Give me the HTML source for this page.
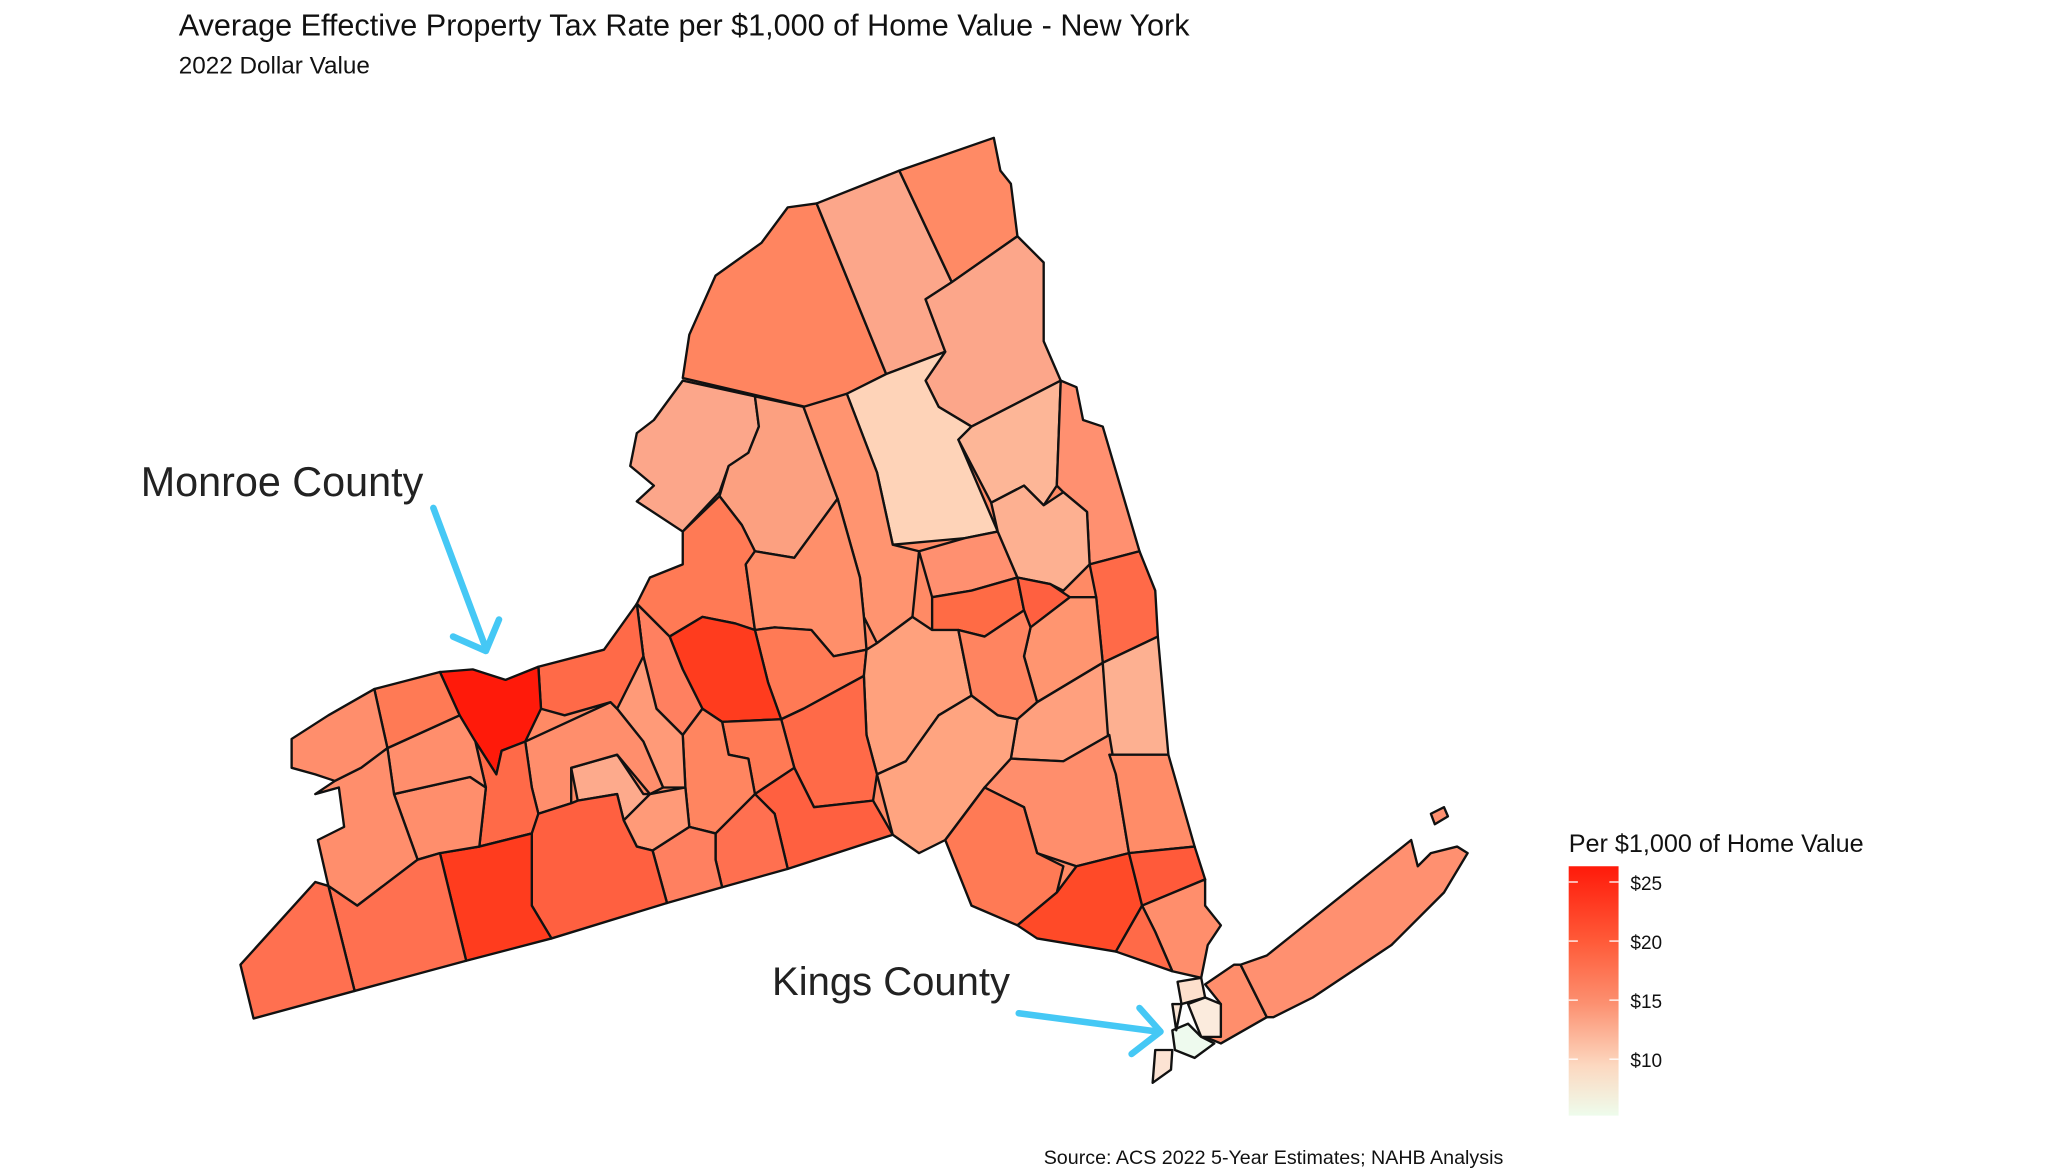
<!DOCTYPE html>
<html><head><meta charset="utf-8"><style>
html,body{margin:0;padding:0;background:#fff}
svg{display:block}
text{font-family:"Liberation Sans",sans-serif;fill:#111}
</style></head><body>
<svg width="2048" height="1176" viewBox="0 0 1560 896" xmlns="http://www.w3.org/2000/svg">
<defs><linearGradient id="g" x1="0" y1="0" x2="0" y2="1">
<stop offset="0" stop-color="#ff1a0a"/><stop offset="0.3" stop-color="#ff5a38"/><stop offset="0.55" stop-color="#fc9070"/><stop offset="0.8" stop-color="#fcd8c0"/><stop offset="1" stop-color="#eefcec"/></linearGradient></defs>
<text x="136" y="27" font-size="23.3">Average Effective Property Tax Rate per $1,000 of Home Value - New York</text>
<text x="136" y="56" font-size="18.5">2022 Dollar Value</text>
<polygon fill="#ff8a65" points="193,776 183,735 240,672 250,675 262,630 258,600 255,595 240,590 222,585 222,563 250,545 285,525 335,512 360,510 385,518 410,508 460,495 485,460 495,440 520,430 520,405 485,382 498,370 480,355 485,330 498,320 520,290 525,255 545,210 580,185 600,158 622,155 685,130 757,105 762,130 770,140 775,180 795,200 795,260 808,290 820,295 825,320 840,325 868,420 880,450 882,485 890,575 910,645 918,670 918,690 930,705 920,720 915,745 893,740 850,725 790,715 775,705 740,690 720,640 700,650 680,636"/>
<g stroke="#111" stroke-width="1.8" stroke-linejoin="round">
<polygon fill="#ff8560" points="525,255 545,210 580,185 600,158 622,155 675,285 622,312 520,288"/>
<polygon fill="#fca68a" points="622,155 685,130 725,215 705,228 720,268 675,285"/>
<polygon fill="#ff8a65" points="685,130 757,105 762,130 770,140 775,180 725,215"/>
<polygon fill="#fca68a" points="725,215 775,180 795,200 795,260 808,290 740,325 715,310 705,290 720,268 705,228"/>
<polygon fill="#fed3b8" points="645,300 675,285 720,268 705,290 715,310 740,325 730,335 760,405 735,410 680,415 668,360"/>
<polygon fill="#fdb697" points="730,335 740,325 808,290 805,370 795,385 780,370 755,383"/>
<polygon fill="#ff9070" points="808,290 820,295 825,320 840,325 868,420 830,430 828,390 810,375 805,370"/>
<polygon fill="#fca68a" points="520,290 575,302 578,325 570,345 555,355 548,375 520,405 485,382 498,370 480,355 485,330 498,320"/>
<polygon fill="#fca080" points="575,302 612,310 638,380 605,425 575,420 565,400 548,378 555,355 570,345 578,325"/>
<polygon fill="#ff9470" points="612,310 645,300 668,360 680,415 700,420 695,470 668,490 658,470 655,440 638,380"/>
<polygon fill="#ff7a55" points="520,405 548,378 565,400 575,420 568,430 575,480 560,475 535,470 510,485 485,460 495,440 520,430"/>
<polygon fill="#ff8f6a" points="568,430 575,420 605,425 638,380 655,440 658,470 660,495 635,500 618,480 590,478 575,480"/>
<polygon fill="#ff9070" points="700,420 735,410 760,405 775,440 740,450 710,455"/>
<polygon fill="#fdb091" points="755,383 780,370 795,385 810,375 828,390 830,430 810,450 800,445 775,440 760,405"/>
<polygon fill="#ff6b45" points="710,455 740,450 775,440 780,465 750,485 730,480 710,480"/>
<polygon fill="#ff6040" points="775,440 800,445 815,455 785,478 780,465"/>
<polygon fill="#ff6a48" points="830,430 868,420 880,450 882,485 840,505 835,455"/>
<polygon fill="#ff9570" points="785,478 815,455 835,455 840,505 790,535 780,500"/>
<polygon fill="#ff7a55" points="575,480 590,478 618,480 635,500 660,495 658,515 612,540 595,548 585,520"/>
<polygon fill="#ff3c1e" points="510,485 535,470 560,475 575,480 585,520 595,548 550,550 535,540 520,510"/>
<polygon fill="#ff8060" points="485,460 510,485 520,510 535,540 520,560 500,540 490,500"/>
<polygon fill="#ffa17d" points="660,495 668,490 695,470 710,480 730,480 740,530 715,545 690,580 668,590 660,560 658,515"/>
<polygon fill="#ff8460" points="730,480 750,485 780,465 785,478 780,500 790,535 775,548 760,545 740,530"/>
<polygon fill="#ffa07e" points="775,548 790,535 840,505 845,560 810,580 770,578"/>
<polygon fill="#fdb091" points="840,505 882,485 890,575 845,575"/>
<polygon fill="#ffa480" points="668,590 690,580 715,545 740,530 760,545 775,548 770,578 750,600 720,640 700,650 680,636"/>
<polygon fill="#ff6a48" points="595,548 612,540 658,515 660,560 668,590 665,610 620,615 605,585"/>
<polygon fill="#ff7a55" points="550,550 595,548 605,585 575,605 570,578 555,575"/>
<polygon fill="#ff8e6c" points="770,578 810,580 845,560 850,590 860,650 820,660 790,650 780,615 750,600"/>
<polygon fill="#ff8c68" points="845,575 890,575 910,645 860,650 850,590"/>
<polygon fill="#ff7a55" points="720,640 750,600 780,615 790,650 810,660 805,680 775,705 740,690"/>
<polygon fill="#ff4a28" points="775,705 805,680 820,660 860,650 870,690 850,725 790,715"/>
<polygon fill="#ff5a3a" points="860,650 910,645 918,670 870,690"/>
<polygon fill="#ff8e6c" points="870,690 918,670 918,690 930,705 920,720 915,745 893,740 880,710"/>
<polygon fill="#ff6a48" points="850,725 870,690 880,710 893,740"/>
<polygon fill="#ff6040" points="575,605 605,585 620,615 665,610 680,636 600,662 590,620"/>
<polygon fill="#ff7050" points="545,635 575,605 590,620 600,662 550,676 545,655"/>
<polygon fill="#ff8560" points="520,560 535,540 550,550 555,575 570,578 575,605 545,635 525,630 522,600"/>
<polygon fill="#ff8060" points="497,648 525,630 545,635 545,655 550,676 508,688"/>
<polygon fill="#ff9a78" points="475,625 495,605 522,600 525,630 497,648 485,645"/>
<polygon fill="#ff9a78" points="470,540 485,460 490,500 500,540 520,560 522,600 505,600 490,565"/>
<polygon fill="#fdaa8c" points="435,585 470,575 490,605 495,605 475,625 470,605 440,610"/>
<polygon fill="#ff8e6c" points="400,565 465,535 470,540 490,565 505,600 495,605 470,575 435,585 435,612 410,620 405,600"/>
<polygon fill="#ff6a48" points="410,508 460,495 485,460 490,500 470,540 465,535 430,545 412,540"/>
<polygon fill="#ff1a0a" points="335,512 360,510 385,518 410,508 412,540 400,565 382,572 378,590 362,565 350,545"/>
<polygon fill="#ff6a48" points="362,565 378,590 382,572 400,565 405,600 410,620 405,635 365,645 370,600"/>
<polygon fill="#ff6040" points="405,635 410,620 435,612 440,610 470,605 475,625 485,645 497,648 508,688 420,715 405,690"/>
<polygon fill="#ff3c1e" points="335,650 365,645 405,635 405,690 420,715 355,732"/>
<polygon fill="#ff8e6c" points="300,605 358,592 370,600 365,645 335,650 318,655"/>
<polygon fill="#ff8e6c" points="295,570 350,545 362,565 370,600 358,592 300,605"/>
<polygon fill="#ff7a55" points="285,525 335,512 350,545 295,570"/>
<polygon fill="#ff8e6c" points="222,563 250,545 285,525 295,570 275,585 255,595 240,590 222,585"/>
<polygon fill="#ff8e6c" points="240,605 255,595 275,585 295,570 300,605 318,655 272,690 250,675 242,640 262,630 258,600"/>
<polygon fill="#ff7050" points="250,675 272,690 318,655 335,650 355,732 270,755"/>
<polygon fill="#ff7050" points="183,735 240,672 250,675 270,755 193,776"/>
<polygon fill="#ff8e6c" points="918,750 940,735 945,735 965,775 930,795 918,790 930,765"/>
<polygon fill="#ff9070" points="945,735 965,728 985,712 1050,660 1075,640 1080,660 1090,650 1110,645 1118,650 1100,680 1060,720 1000,760 970,775 965,775"/>
<polygon fill="#ff9070" points="1090,620 1100,615 1103,622 1093,628"/>
<polygon fill="#fde0cc" points="897,748 915,745 918,760 900,765"/>
<polygon fill="#fbebdd" points="905,765 918,760 930,765 930,790 915,790"/>
<polygon fill="#eefaee" points="893,785 905,780 915,790 925,795 910,806 895,800"/>
<polygon fill="#fce3d3" points="880,800 893,800 892,815 878,825"/>
<polygon fill="#fae5d5" points="893,765 900,765 896,785"/>
</g>
<g stroke="#45c8f5" stroke-width="5" fill="none" stroke-linecap="round" stroke-linejoin="round">
<line x1="330" y1="387" x2="370" y2="494"/><polyline points="345,485 370,496 380,472"/>
<line x1="776" y1="772" x2="882" y2="786"/><polyline points="868,768 884,786 862,803"/>
</g>
<text x="107" y="378" font-size="31.5" style="fill:#222">Monroe County</text>
<text x="588" y="758" font-size="30.5" style="fill:#222">Kings County</text>
<text x="1195" y="649" font-size="19.2">Per $1,000 of Home Value</text>
<rect x="1195" y="660" width="38" height="190" fill="url(#g)"/>
<g stroke="#fff" stroke-width="1"><line x1="1195" y1="672" x2="1202" y2="672"/><line x1="1226" y1="672" x2="1233" y2="672"/>
<line x1="1195" y1="717" x2="1202" y2="717"/><line x1="1226" y1="717" x2="1233" y2="717"/>
<line x1="1195" y1="762" x2="1202" y2="762"/><line x1="1226" y1="762" x2="1233" y2="762"/>
<line x1="1195" y1="807" x2="1202" y2="807"/><line x1="1226" y1="807" x2="1233" y2="807"/></g>
<g font-size="14.5"><text x="1242" y="678">$25</text><text x="1242" y="723">$20</text><text x="1242" y="768">$15</text><text x="1242" y="813">$10</text></g>
<text x="795" y="887" font-size="15">Source: ACS 2022 5-Year Estimates; NAHB Analysis</text>
</svg>
</body></html>
